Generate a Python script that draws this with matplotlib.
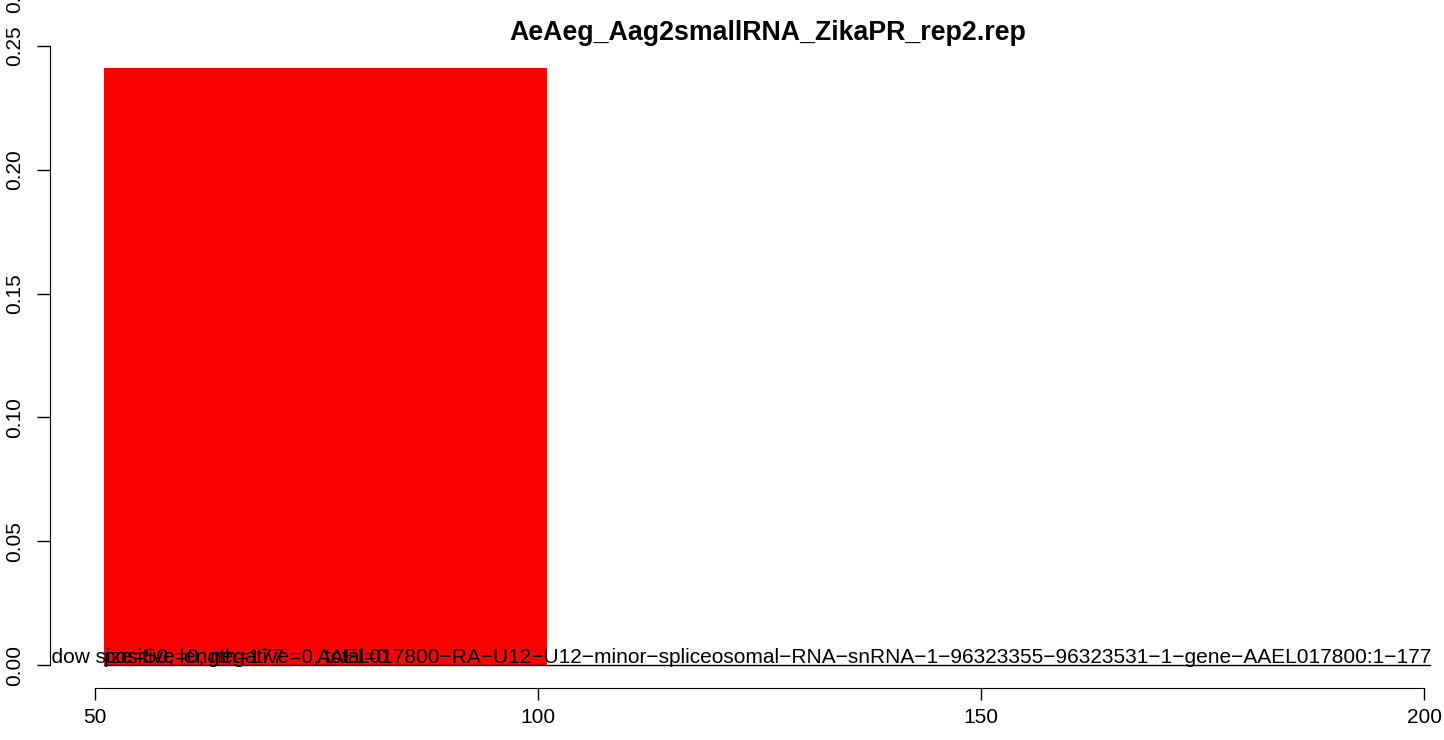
import matplotlib
matplotlib.use('Agg')
from matplotlib import pyplot as plt

plt.rcParams['font.family'] = ['Liberation Sans', 'DejaVu Sans']

# data
title = 'AeAeg_Aag2smallRNA_ZikaPR_rep2.rep'
bar_left = [51]
bar_width = 50
bar_height = [0.241]
base_line = [51, 200.7]
y_ticks = [0.00, 0.05, 0.10, 0.15, 0.20, 0.25]
x_ticks = [50, 100, 150, 200]
win_text = 'window size=50, length=177'
count_text = 'positive=0, negative=0, total=0'
gene_text = 'AAEL017800-RA-U12-U12-minor-spliceosomal-RNA-snRNA-1-96323355-96323531-1-gene-AAEL017800:1-177'.replace('-', '\u2212')

W, H = 1444, 740
fig = plt.figure(figsize=(W / 100, H / 100), dpi=100)

# axes box in pixels (left, top, right, bottom)
L, T, R, B = 50, 20, 1432, 688
ax = fig.add_axes([L / W, 1 - B / H, (R - L) / W, (B - T) / H])

px_x = 443 / 50.0          # px per x unit (50 -> 95px, 100 -> 538px)
px_y = 619 / 0.25          # px per y unit (0 -> 665px, 0.25 -> 46px)
ax.set_xlim(50 - (95 - L) / px_x, 50 + (R - 95) / px_x)
ax.set_ylim(-(B - 665) / px_y, 0.25 + (46 - T) / px_y)

ax.bar(bar_left, bar_height, width=bar_width, align='edge', color='red', linewidth=0)
ax.plot(base_line, [0, 0], color='black', lw=1.0)

fs = 15
ax.text(50 + (20 - 95) / px_x, 2 / px_y, win_text, fontsize=fs, ha='left', va='baseline', clip_on=True)
ax.text(51, 2 / px_y, count_text, fontsize=fs, ha='left', va='baseline', clip_on=True)
ax.text(200.9, 2 / px_y, gene_text, fontsize=fs, ha='right', va='baseline', clip_on=True)

for s in ['top', 'right']:
    ax.spines[s].set_visible(False)
ax.spines['left'].set_bounds(0, 0.25)
ax.spines['bottom'].set_bounds(50, 200)
ax.set_yticks(y_ticks)
ax.set_yticklabels(['%.2f' % v for v in y_ticks], rotation=90, va='center', fontsize=fs)
ax.set_xticks(x_ticks)
ax.set_xticklabels([str(v) for v in x_ticks], fontsize=fs)
ax.tick_params(axis='y', length=9.5, width=1.0, pad=9)
ax.tick_params(axis='x', length=8.6, width=1.0, pad=6)

# partial label cut by the top edge
fig.text(15 / W, 1 + 7 / H, '0.30', rotation=90, fontsize=fs, ha='center', va='center')

fig.text(768 / W, 1 - 33 / H, title, fontsize=19.3, fontweight='bold', ha='center', va='center')

fig.savefig('out.png', dpi=100)
